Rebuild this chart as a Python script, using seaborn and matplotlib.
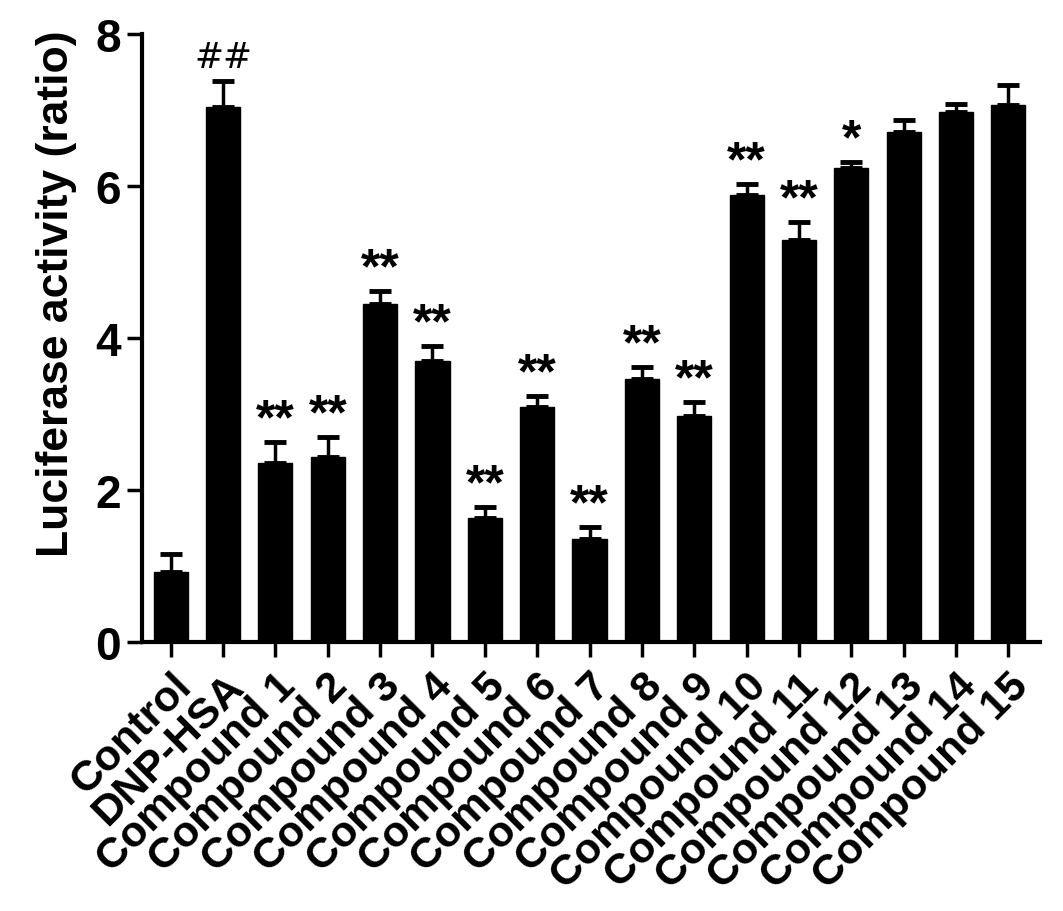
import pandas as pd
import matplotlib.pyplot as plt
import seaborn as sns
import numpy as np

groups = ["Control", "DNP-HSA"] + ["Compound %d" % i for i in range(1, 16)]
means = [0.92, 7.04, 2.36, 2.43, 4.45, 3.70, 1.63, 3.09, 1.35, 3.46, 2.97,
         5.88, 5.29, 6.24, 6.71, 6.97, 7.07]
errs = [0.24, 0.34, 0.27, 0.27, 0.17, 0.20, 0.15, 0.15, 0.16, 0.16, 0.19,
        0.15, 0.24, 0.08, 0.16, 0.11, 0.26]
marks = ["", "##", "**", "**", "**", "**", "**", "**", "**", "**", "**",
         "**", "**", "*", "", "", ""]

df = pd.DataFrame({"group": groups, "ratio": means})

sns.set_style("ticks", {"axes.edgecolor": "black", "text.color": "black",
                        "xtick.color": "black", "ytick.color": "black",
                        "axes.labelcolor": "black"})
plt.rcParams['font.family'] = ['Liberation Sans', 'DejaVu Sans']
plt.rcParams['font.weight'] = 'bold'

fig = plt.figure(figsize=(10.63, 9.12), dpi=100)
ax = fig.add_axes([0.1336, 0.295, 0.978 - 0.1336, 0.9616 - 0.295])

sns.barplot(x="group", y="ratio", data=df, color="black", width=0.65,
            edgecolor="black", saturation=1, ax=ax)
x = np.arange(len(groups))
ax.errorbar(x, means, yerr=[np.zeros(len(errs)), errs], fmt="none",
            ecolor="black", elinewidth=2.5, capsize=8, capthick=3.5)

for xi, m, e, t in zip(x, means, errs, marks):
    if t == "##":
        ax.text(xi, m + e + 0.1, t, ha="center", va="bottom", fontsize=25,
                fontweight="normal", family="DejaVu Sans")
    elif t:
        ax.text(xi, m + e - 0.02, t, ha="center", va="bottom", fontsize=36,
                fontweight="bold")

ax.set_ylim(0, 8)
ax.set_xlim(-0.55, 16.6)
ax.set_yticks([0, 2, 4, 6, 8])
ax.set_xlabel("")
ax.set_ylabel("Luciferase activity (ratio)", fontsize=32, fontweight="bold")
ax.yaxis.set_label_coords(-0.072, 0.575)
ax.tick_params(axis="y", labelsize=33, width=2.5, length=11, pad=4)
ax.tick_params(axis="x", labelsize=31, width=2.5, length=11, pad=6)
plt.setp(ax.get_xticklabels(), rotation=45, ha="right",
         rotation_mode="anchor", fontweight="bold")
plt.setp(ax.get_yticklabels(), fontweight="bold")
for s in ["left", "bottom"]:
    ax.spines[s].set_linewidth(3)
sns.despine(ax=ax)

fig.savefig("out.png", dpi=100)
